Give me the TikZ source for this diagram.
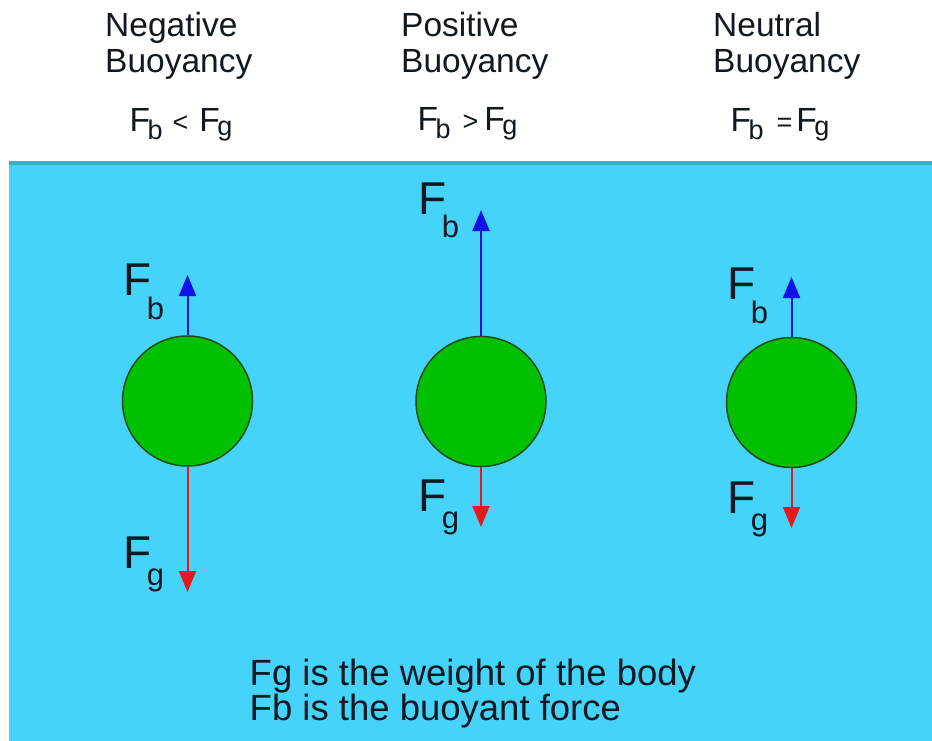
\documentclass[tikz,border=0pt]{standalone}
\usepackage{fontspec}
\setmainfont{Liberation Sans}
\usepackage{tikz}
\usetikzlibrary{arrows.meta,positioning}

\definecolor{water}{HTML}{46D3FA}
\definecolor{surface}{HTML}{3AB0C6}
\definecolor{ballgreen}{HTML}{00C000}
\definecolor{balledge}{HTML}{1E4A1E}
\definecolor{fbblue}{HTML}{1212E6}
\definecolor{fgred}{HTML}{E41A1A}
\definecolor{inkdark}{HTML}{101820}

% subscripts hang from the baseline of the F
\newcommand{\tsub}[2]{\kern-2.5pt\raisebox{-#2}{\fontsize{27}{27}\selectfont #1}}
\newcommand{\asub}[2]{\kern-5pt\raisebox{-#2}{\fontsize{31}{31}\selectfont #1}}
\newcommand{\trel}[1]{{\fontsize{27}{27}\selectfont #1}}

\tikzset{
    ball/.style={circle, draw=balledge, line width=1.5pt, fill=ballgreen,
        minimum size=130pt, inner sep=0pt},
    upforce/.style={draw=fbblue, line width=2pt, -{Triangle[width=17pt,length=21pt]}},
    downforce/.style={draw=fgred, line width=2pt, -{Triangle[width=17pt,length=21pt]}},
    ttl/.style={anchor=base west, inner sep=0pt, font=\fontsize{33.5}{33.5}\selectfont, text=inkdark},
    flab/.style={anchor=base west, inner sep=0pt, font=\fontsize{46}{46}\selectfont, text=inkdark},
    note/.style={anchor=base west, inner sep=0pt, font=\fontsize{36.5}{36.5}\selectfont, text=inkdark},
}

\begin{document}
\begin{tikzpicture}[x=1pt,y=-1pt]
    \useasboundingbox (0,0) rectangle (932,741);
    \fill[white] (0,0) rectangle (932,741);
    % the water
    \fill[water] (9,161) rectangle (932,741);
    \fill[surface] (9,161) rectangle (932,165);

    % headings
    \foreach \cx/\word in {105/Negative,401/Positive,713/Neutral}{
            \node[ttl] (head-\word) at (\cx,37) {\word};
            \node[ttl] (sub-\word) at (\cx,73) {Buoyancy};
        }
    \node[ttl] (negrel) at (129.5,132) {F\tsub{b}{8pt}\hspace{10pt}\trel{<}\hspace{11pt}F\tsub{g}{4pt}};
    \node[ttl] (posrel) at (417.5,131) {F\tsub{b}{8pt}\hspace{12pt}\trel{>}\hspace{6pt}F\tsub{g}{4pt}};
    \node[ttl] (neurel) at (730.5,132) {F\tsub{b}{8pt}\hspace{13pt}\trel{=}\hspace{4pt}F\tsub{g}{4pt}};

    % bodies
    \node[ball] (negball) at (187.5,401) {};
    \node[ball] (posball) at (481,401.5) {};
    \node[ball] (neuball) at (791.5,402.5) {};

    % force arrows
    \coordinate (negtop) at (187.5,275);
    \coordinate (negbot) at (187.5,592);
    \coordinate (postop) at (481,210);
    \coordinate (posbot) at (481,527);
    \coordinate (neutop) at (791.5,277);
    \coordinate (neubot) at (791.5,528);
    \draw[upforce] (negball.north) -- (negtop);
    \draw[downforce] (negball.south) -- (negbot);
    \draw[upforce] (posball.north) -- (postop);
    \draw[downforce] (posball.south) -- (posbot);
    \draw[upforce] (neuball.north) -- (neutop);
    \draw[downforce] (neuball.south) -- (neubot);

    \node[flab] (negfb) at (123.5,295) {F\asub{b}{24pt}};
    \node[flab] (negfg) at (123.5,568) {F\asub{g}{17pt}};
    \node[flab] (posfb) at (418.5,214) {F\asub{b}{24pt}};
    \node[flab] (posfg) at (418.5,511) {F\asub{g}{17pt}};
    \node[flab] (neufb) at (727.5,299) {F\asub{b}{24pt}};
    \node[flab] (neufg) at (727.5,513) {F\asub{g}{17pt}};

    % legend
    \node[note] (note1) at (249.5,685) {Fg is the weight of the body};
    \node[note] (note2) at (249.5,720) {Fb is the buoyant force};
\end{tikzpicture}
\end{document}
